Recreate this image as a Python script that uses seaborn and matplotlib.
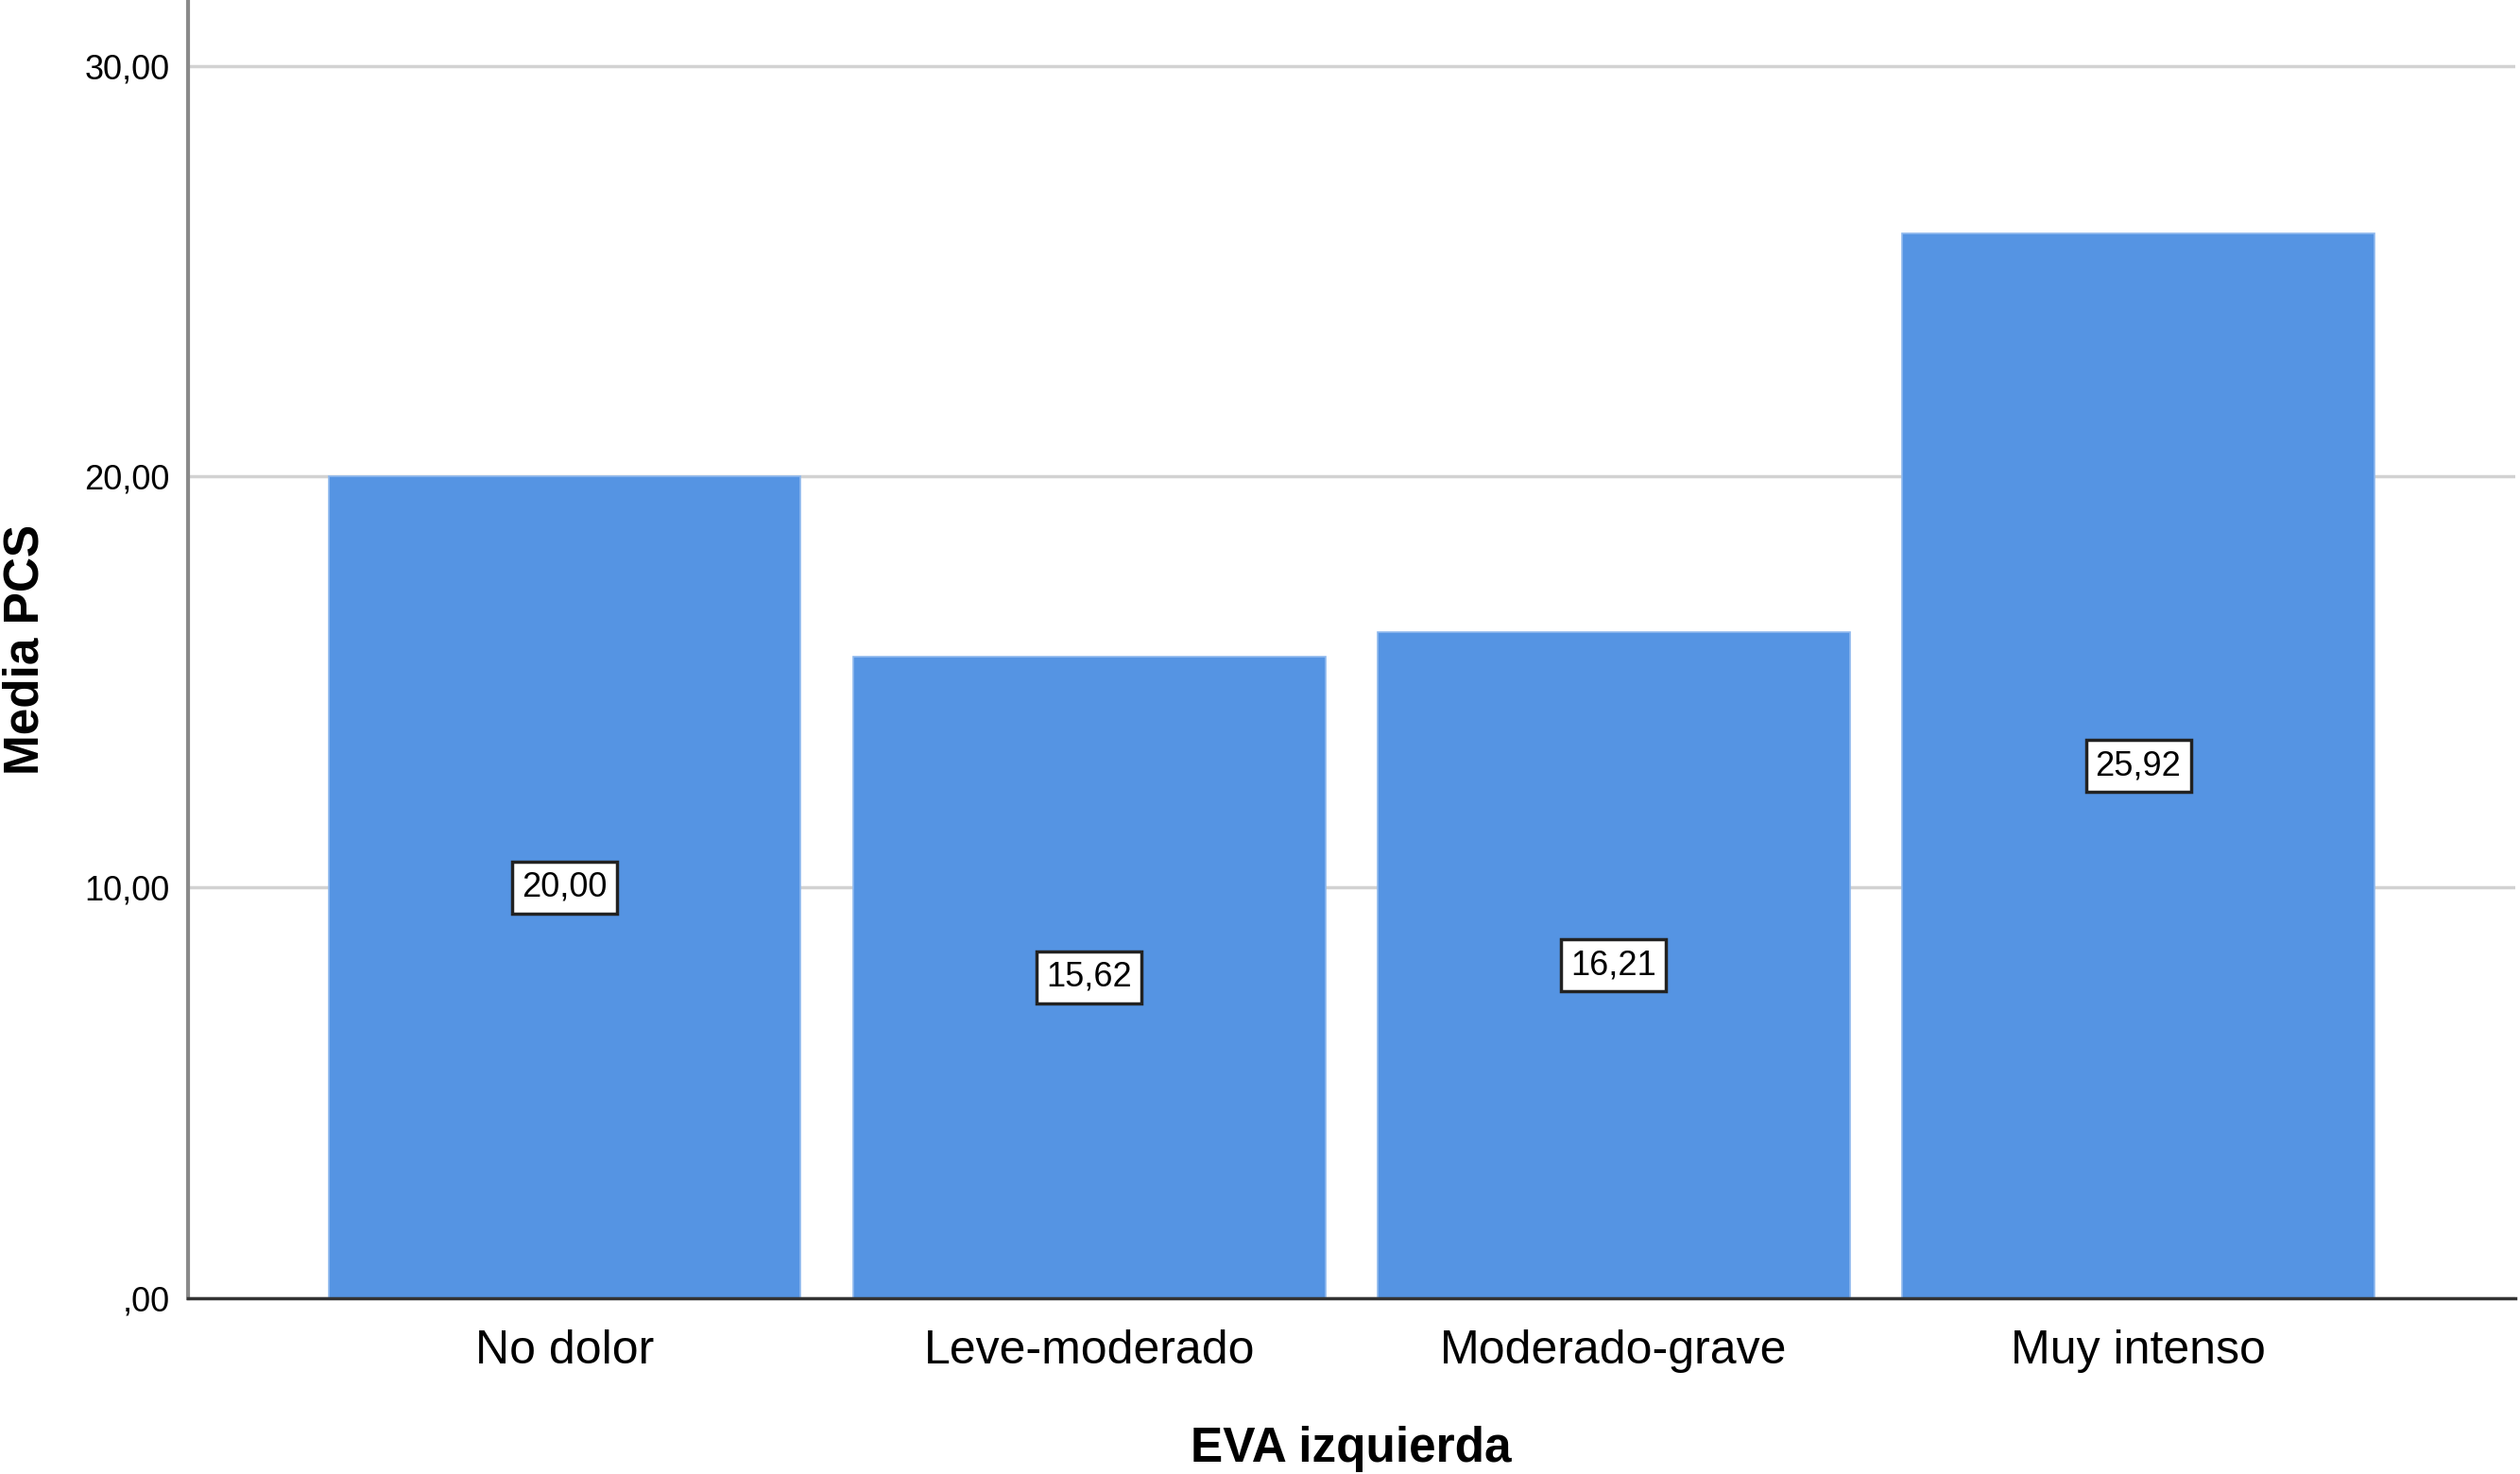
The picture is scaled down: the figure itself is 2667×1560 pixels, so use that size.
import matplotlib
matplotlib.use("Agg")
import matplotlib.pyplot as plt
import seaborn as sns
import pandas as pd

categories = ["No dolor", "Leve-moderado", "Moderado-grave", "Muy intenso"]
values = [20.00, 15.62, 16.21, 25.92]
ytick_values = [0, 10, 20, 30]
ytick_labels = [",00", "10,00", "20,00", "30,00"]

sns.set_theme(style="white")
plt.rcParams['font.family'] = ['Liberation Sans', 'DejaVu Sans']
plt.rcParams['text.color'] = 'black'
plt.rcParams['axes.labelcolor'] = 'black'
plt.rcParams['xtick.color'] = 'black'
plt.rcParams['ytick.color'] = 'black'

df = pd.DataFrame({"cat": categories, "val": values})

fig = plt.figure(figsize=(26.67, 15.6), dpi=100)
ax = fig.add_axes([0.0746, 0.1192, 0.9234, 0.8808])

ax.set_axisbelow(True)
ax.yaxis.grid(True, color="#d2d2d2", linewidth=2.5)
ax.xaxis.grid(False)

sns.barplot(data=df, x="cat", y="val", color="#5594E3", width=0.9,
            saturation=1, edgecolor="#8fb9ee", linewidth=1.2, ax=ax, errorbar=None)

ax.set_xlim(-0.718, 3.718)
ax.set_ylim(0, 31.6)
ax.set_yticks(ytick_values)
ax.set_yticklabels(ytick_labels, fontsize=26)
ax.tick_params(axis="y", length=0, pad=14)
ax.tick_params(axis="x", length=0, pad=24, labelsize=36)

for s in ["top", "right"]:
    ax.spines[s].set_visible(False)
ax.spines["left"].set_color("#8a8a8a")
ax.spines["left"].set_linewidth(3)
ax.spines["bottom"].set_color("#333333")
ax.spines["bottom"].set_linewidth(2.5)

for i, v in enumerate(values):
    ax.text(i, v / 2, f"{v:.2f}".replace(".", ","), ha="center", va="center",
            fontsize=26, color="black",
            bbox=dict(boxstyle="square,pad=0.28", fc="white", ec="#222222", lw=2.5))

ax.set_xlabel("EVA izquierda", fontsize=37, fontweight="bold", labelpad=40)
ax.set_ylabel("Media PCS", fontsize=37, fontweight="bold", labelpad=27)

fig.savefig("out.png", dpi=100)
